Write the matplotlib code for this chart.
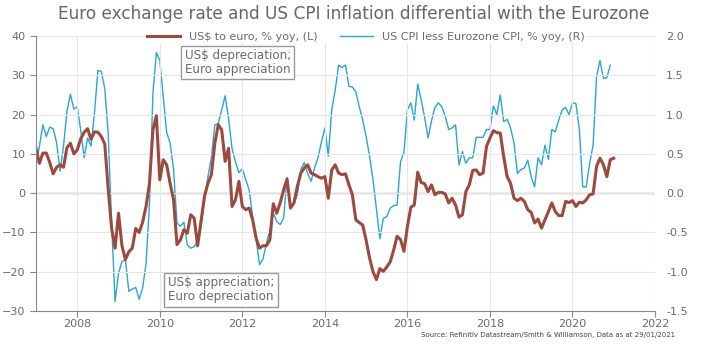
import numpy as np
import matplotlib

matplotlib.use("Agg")
import matplotlib.pyplot as plt

# monthly series, Jan 2007 onwards
usd_eur = [
    11.4, 7.6, 10.2, 10.2, 7.8, 4.9, 6.6, 7.2, 6.6, 11.6, 12.7, 10.0,
    11.0, 13.8, 15.5, 16.4, 13.7, 15.6, 15.5, 14.4, 12.5, 1.0, -9.0, -14.0,
    -5.1, -13.4, -16.9, -14.9, -14.0, -9.0, -10.0, -7.4, -3.4, 2.5, 16.1, 19.7,
    3.4, 8.5, 7.2, 2.5, -1.7, -13.1, -11.9, -9.3, -10.2, -5.5, -6.4, -13.4,
    -7.2, -0.8, 2.5, 4.7, 12.7, 17.4, 16.1, 8.1, 11.4, -3.4, -1.7, 3.0,
    -3.4, -4.2, -3.8, -6.8, -11.4, -14.0, -13.4, -13.4, -11.9, -2.7, -5.1, -2.5,
    0.8, 3.6, -3.8, -2.5, 1.7, 5.1, 6.4, 7.2, 5.1, 4.7, 4.2, 3.8,
    4.2, -1.3, 5.9, 7.2, 5.1, 4.7, 4.9, 2.1, -0.4, -6.8, -7.5, -8.1,
    -12.0, -16.5, -20.0, -22.0, -19.2, -19.9, -18.8, -17.5, -14.5, -11.0, -11.8, -14.8,
    -8.5, -3.6, -3.0, 5.3, 2.7, 2.4, 0.4, 2.1, -0.4, 0.2, 0.2, -0.2,
    -2.5, -1.3, -3.0, -6.1, -5.5, 0.4, 2.1, 5.8, 5.9, 4.7, 5.1, 11.9,
    14.0, 15.9, 15.4, 15.3, 9.3, 4.2, 2.5, -1.3, -1.9, -1.3, -2.1, -4.2,
    -4.9, -7.6, -6.6, -8.9, -6.8, -4.7, -2.5, -4.7, -5.7, -5.7, -2.1, -2.4,
    -1.9, -3.4, -2.3, -2.5, -1.7, -0.4, -0.2, 6.8, 8.9, 7.2, 4.2, 8.5,
    8.9,
]

cpi_diff = [
    0.34, 0.60, 0.87, 0.72, 0.84, 0.82, 0.64, 0.28, 0.60, 1.04, 1.26, 1.07,
    1.10, 0.80, 0.45, 0.70, 0.60, 1.02, 1.56, 1.55, 1.33, 0.76, -0.40, -1.38,
    -1.02, -0.87, -0.85, -1.25, -1.22, -1.20, -1.35, -1.21, -0.90, -0.13, 1.27, 1.79,
    1.69, 1.23, 0.77, 0.64, 0.30, -0.38, -0.42, -0.37, -0.66, -0.70, -0.68, -0.61,
    -0.42, -0.08, 0.21, 0.45, 0.87, 0.89, 1.06, 1.24, 0.95, 0.57, 0.40, 0.26,
    0.31, 0.17, 0.04, -0.30, -0.59, -0.91, -0.84, -0.64, -0.47, -0.25, -0.36, -0.40,
    -0.32, 0.20, -0.18, -0.13, -0.02, 0.30, 0.39, 0.25, 0.15, 0.32, 0.45, 0.65,
    0.83, 0.47, 1.06, 1.31, 1.63, 1.60, 1.63, 1.36, 1.35, 1.29, 1.10, 0.93,
    0.72, 0.47, 0.17, -0.20, -0.58, -0.32, -0.30, -0.19, -0.16, -0.15, 0.40, 0.52,
    1.06, 1.15, 0.93, 1.39, 1.19, 0.97, 0.70, 0.92, 1.09, 1.15, 1.10, 0.98,
    0.81, 0.83, 0.87, 0.36, 0.53, 0.38, 0.45, 0.45, 0.71, 0.71, 0.71, 0.81,
    0.81, 1.11, 1.00, 1.25, 0.91, 0.94, 0.83, 0.64, 0.25, 0.30, 0.32, 0.42,
    0.21, 0.08, 0.45, 0.36, 0.61, 0.43, 0.81, 0.78, 0.93, 1.06, 1.09, 1.00,
    1.15, 1.14, 0.81, 0.08, 0.08, 0.38, 0.61, 1.48, 1.69, 1.46, 1.47, 1.63,
]

year_ticks = [2008, 2010, 2012, 2014, 2016, 2018, 2020, 2022]
left_ticks = [-30, -20, -10, 0, 10, 20, 30, 40]
right_ticks = [-1.5, -1.0, -0.5, 0.0, 0.5, 1.0, 1.5, 2.0]

t_fx = 2007 + np.arange(len(usd_eur)) / 12
t_cpi = 2007 + np.arange(len(cpi_diff)) / 12

BROWN = "#9c4a3e"
BLUE = "#2aa6d6"
GREY = "#6a6a6a"

fig = plt.figure(figsize=(7.07, 3.57), dpi=100)
ax = fig.add_axes([36 / 707, 1 - 311 / 357, (655 - 36) / 707, (311 - 36) / 357])
ax2 = ax.twinx()
ax.set_zorder(ax2.get_zorder() + 1)
ax.patch.set_visible(False)

ax2.plot(t_cpi, cpi_diff, color=BLUE, linewidth=1.0,
         label="US CPI less Eurozone CPI, % yoy, (R)")
ax.plot(t_fx, usd_eur, color=BROWN, linewidth=2.2,
        label="US$ to euro, % yoy, (L)")

ax.set_xlim(2007, 2022)
ax.set_ylim(-30, 40)
ax2.set_ylim(-1.5, 2.0)
ax.set_xticks(year_ticks)
ax.set_yticks(left_ticks)
ax2.set_yticks(right_ticks)
ax2.set_yticklabels([f"{v:.1f}" for v in right_ticks])

ax.grid(True, color="#e6e6e6", linewidth=0.8)
ax.axhline(0, color="#a0a0a0", linewidth=1.0, zorder=1)

for a in (ax, ax2):
    for s in a.spines.values():
        s.set_visible(False)
ax.spines["left"].set_visible(True)
ax.spines["bottom"].set_visible(True)
ax.spines["left"].set_color("#888888")
ax.spines["bottom"].set_color("#888888")

ax.tick_params(axis="both", colors="#888888", labelcolor=GREY, labelsize=8,
               length=4, direction="out")
ax.tick_params(axis="x", pad=2)
ax2.tick_params(axis="y", length=0, labelcolor=GREY, labelsize=8, pad=8)

ax.text(2010.6, 36.6, "US$ depreciation;\nEuro appreciation", fontsize=8.6,
        color=GREY, va="top", ha="left", linespacing=1.05,
        bbox=dict(boxstyle="square,pad=0.3", fc="white", ec="#999999", lw=1))
ax.text(2010.2, -21.2, "US$ appreciation;\nEuro depreciation", fontsize=8.6,
        color=GREY, va="top", ha="left", linespacing=1.05,
        bbox=dict(boxstyle="square,pad=0.3", fc="white", ec="#999999", lw=1))

h1, l1 = ax.get_legend_handles_labels()
h2, l2 = ax2.get_legend_handles_labels()
leg = fig.legend(h1 + h2, l1 + l2, loc="center", ncol=2,
                 bbox_to_anchor=(366 / 707, 1 - 37 / 357), fontsize=8,
                 frameon=True, facecolor="white", edgecolor="none",
                 framealpha=1, handlelength=3.0, columnspacing=2.0,
                 borderpad=0.1)
for txt in leg.get_texts():
    txt.set_color(GREY)

fig.text(0.5, 1 - 14 / 357,
         "Euro exchange rate and US CPI inflation differential with the Eurozone",
         ha="center", va="center", fontsize=12.2, color="#666666")
fig.text(675 / 707, 1 - 335 / 357,
         "Source: Refinitiv Datastream/Smith & Williamson, Data as at 29/01/2021",
         ha="right", va="center", fontsize=5.0, color="#444444")

fig.savefig("out.png", dpi=100)
